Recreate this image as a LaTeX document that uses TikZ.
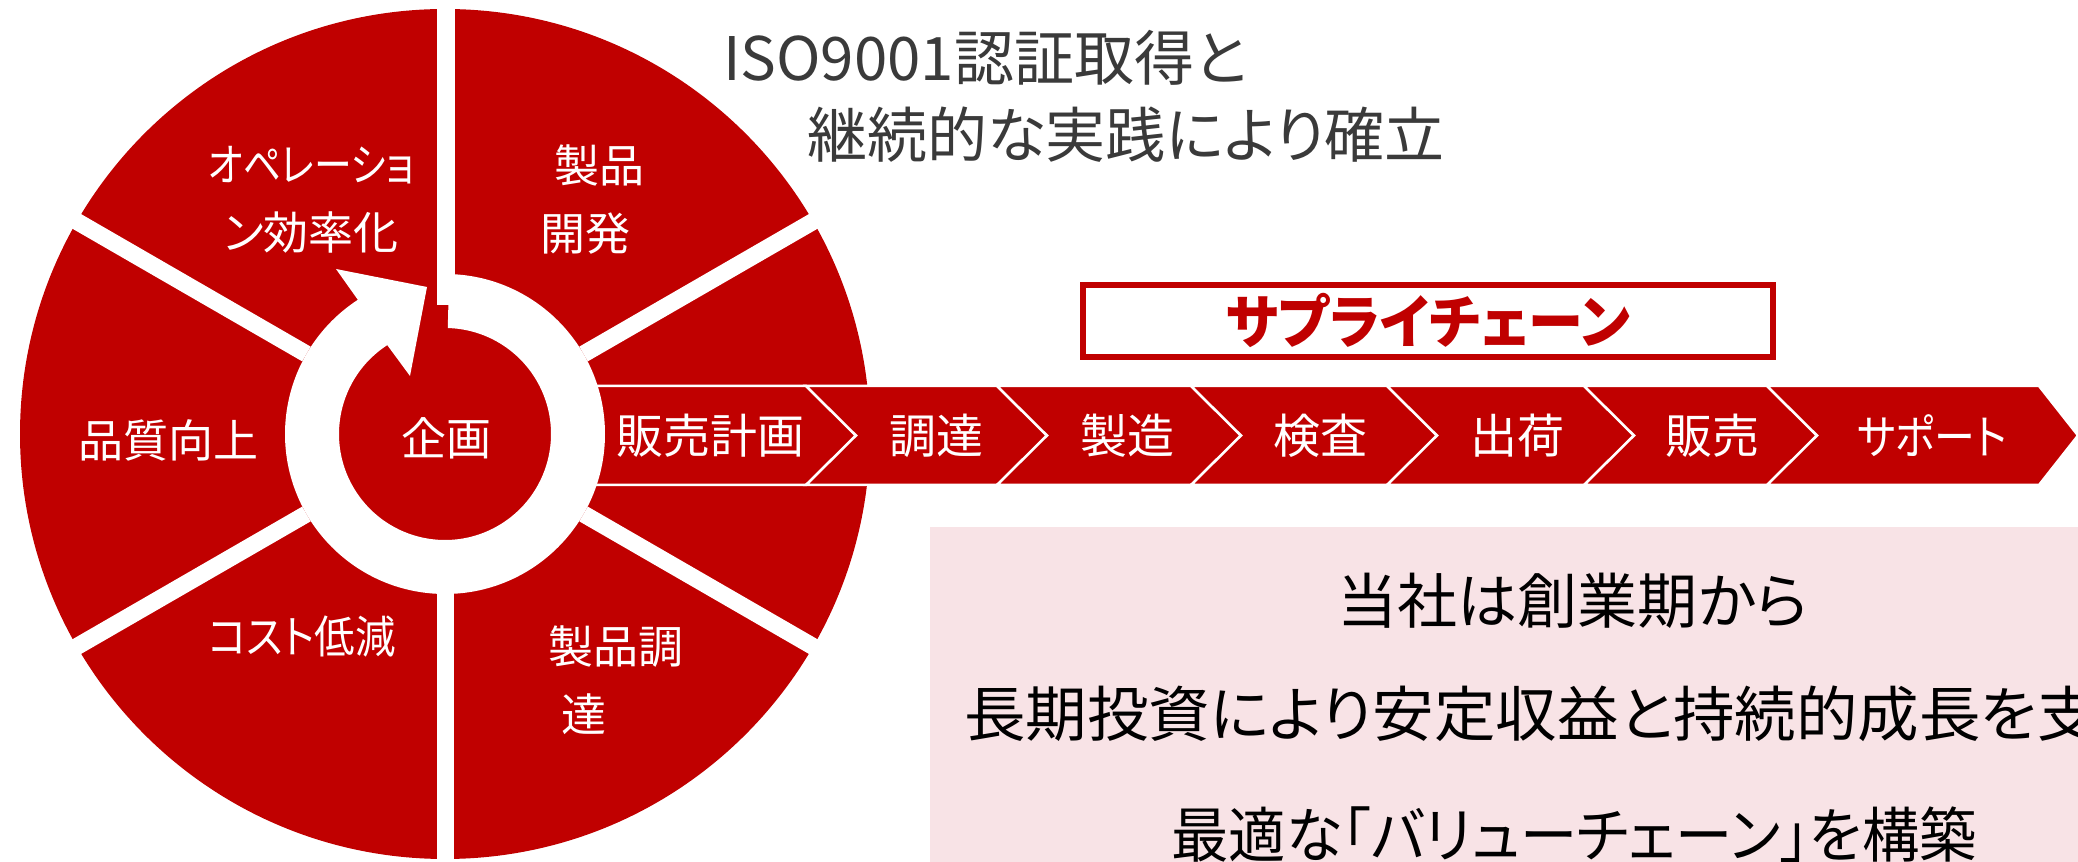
\documentclass[tikz,border=0pt]{standalone}
\usepackage{fontspec}
\usepackage{graphicx}
\setmainfont{Noto Sans CJK JP}[RawFeature=+palt]
\usetikzlibrary{calc}
\definecolor{cred}{RGB}{192,0,0}
\definecolor{boxpink}{RGB}{248,227,230}
\definecolor{isogrey}{RGB}{58,58,58}
\begin{document}
\begin{tikzpicture}[x=1pt,y=1pt,
  txt/.style={inner sep=0pt, outer sep=0pt},
  wtxt/.style={txt, text=white, font=\fontsize{45}{68}\selectfont},
  chtxt/.style={txt, text=white, font=\fontsize{47}{50}\selectfont},
  chev/.style={fill=cred, draw=white, line width=2.5pt},
  gapline/.style={white, line width=17pt},
  isotxt/.style={txt, text=isogrey, font=\fontsize{60}{62}\selectfont, anchor=west},
  boxtxt/.style={txt, text=black, font=\fontsize{60}{62}\selectfont}]
\useasboundingbox (0,0) rectangle (2078,862);
\fill[white] (0,0) rectangle (2078,862);
\coordinate (C) at (445,428);
% wheel
\fill[cred] (C) circle[radius=425];
\foreach \a in {30,150,210,270,330}
  \draw[gapline] ($(C)+(\a:160)$) -- ($(C)+(\a:440)$);
\fill[white] (437,557) rectangle (455,870);
% chevron band
\draw[chev] (570,476) -- (806,476) -- (856,426.5) -- (806,377) -- (570,377) -- cycle;
\foreach \l/\r in {806/997, 997/1191, 1191/1387, 1387/1584, 1584/1767}
  \draw[chev] (\l,476) -- (\r,476) -- (\r+50,426.5) -- (\r,377) -- (\l,377) -- (\l+50,426.5) -- cycle;
\draw[chev] (1767,476) -- (2039,476) -- (2078,426.5) -- (2039,377) -- (1767,377) -- (1817,426.5) -- cycle;
% circular arrow
\fill[white] ($(C)+(88.5:160)$) arc[start angle=88.5, end angle=-237, radius=160]
  -- (336,593) -- (427,575) -- (410,486)
  -- ($(C)+(123:106)$) arc[start angle=-237, end angle=88.5, radius=106] -- cycle;
% wheel labels
\node[wtxt, align=center] (ops) at (311,662.5) {\scalebox{0.84}[1]{オペレーショ}\\ン効率化};
\node[wtxt, align=left, anchor=west] (dev) at (540,662.5) {\hspace{14pt}製品\\開発};
\node[wtxt] (qual) at (168,422) {品質向上};
\node[wtxt] (plan) at (446,424) {企画};
\node[wtxt] (cost) at (302,225) {\scalebox{0.9}[1]{コスト低減}};
\node[wtxt, align=left, anchor=west] (proc) at (548,182) {製品調\\\hspace{13pt}達};
% chevron labels
\node[chtxt] (c1) at (710,426.5) {販売計画};
\node[chtxt] (c2) at (936,426.5) {調達};
\node[chtxt] (c3) at (1127,426.5) {製造};
\node[chtxt] (c4) at (1320,426.5) {検査};
\node[chtxt] (c5) at (1517,426.5) {出荷};
\node[chtxt] (c6) at (1712,426.5) {販売};
\node[chtxt] (c7) at (1932,426.5) {\scalebox{0.87}[1]{サポート}};
% ISO text
\node[isotxt] (iso1) at (723,804.5) {ISO9001認証取得と};
\node[isotxt] (iso2) at (807,727) {継続的な実践により確立};
% supply chain title
\node[draw=cred, line width=6pt, minimum width=690pt, minimum height=72pt, inner sep=0pt] (scbox) at (1428,541) {};
\node[txt, text=cred, font=\bfseries\fontsize{58}{60}\selectfont] (sc) at (scbox.center) {\scalebox{0.95}[1]{サプライチェーン}};
% value chain box
\fill[boxpink] (930,-5) rectangle (2090,335);
\node[boxtxt] (b1) at (1573,261) {当社は創業期から};
\node[boxtxt, anchor=west] (b2) at (964,148) {\scalebox{1.025}[1]{長期投資により安定収益と持続的成長を支}};
\node[boxtxt] (b3) at (1574,27) {\scalebox{0.955}[1]{最適な「バリューチェーン」を構築}};
\end{tikzpicture}
\end{document}
